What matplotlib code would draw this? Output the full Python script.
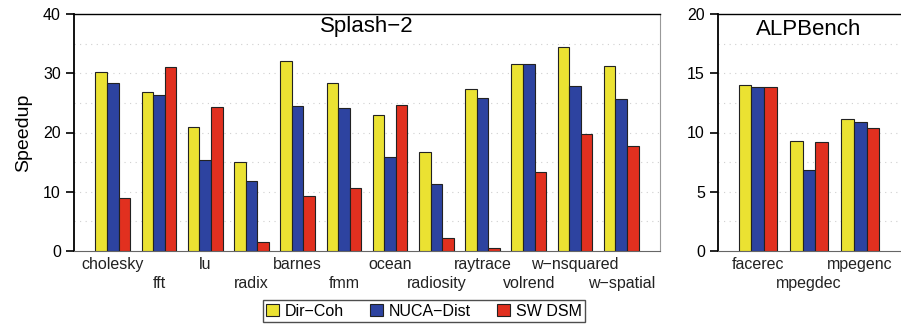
import numpy as np
import matplotlib
matplotlib.use("Agg")
import matplotlib.pyplot as plt

plt.rcParams['font.family'] = ['Liberation Sans', 'DejaVu Sans']

splash_apps = ["cholesky", "fft", "lu", "radix", "barnes", "fmm", "ocean",
               "radiosity", "raytrace", "volrend", "w\u2212nsquared", "w\u2212spatial"]
splash_dir = [30.2, 26.8, 21.0, 15.0, 32.0, 28.3, 22.9, 16.7, 27.3, 31.5, 34.5, 31.3]
splash_nuca = [28.3, 26.3, 15.4, 11.8, 24.5, 24.1, 15.8, 11.3, 25.8, 31.5, 27.8, 25.6]
splash_sw = [8.9, 31.1, 24.3, 1.5, 9.2, 10.6, 24.6, 2.2, 0.5, 13.3, 19.8, 17.7]

alp_apps = ["facerec", "mpegdec", "mpegenc"]
alp_dir = [14.0, 9.3, 11.1]
alp_nuca = [13.8, 6.8, 10.9]
alp_sw = [13.8, 9.2, 10.4]

series = ["Dir\u2212Coh", "NUCA\u2212Dist", "SW DSM"]
colors = ["#ebe232", "#2d43a0", "#e1301f"]

fig = plt.figure(figsize=(9.01, 3.27), dpi=100)
ax1 = fig.add_axes([74/901, 1-251/327, (660-74)/901, (251-14)/327])
ax2 = fig.add_axes([718/901, 1-251/327, (900-718)/901, (251-14)/327])

def draw(ax, apps, vals, ymax, step, xl):
    x = np.arange(len(apps))
    w = 0.25
    for k, v in enumerate(vals):
        ax.bar(x + (k-1)*w, v, w, color=colors[k], edgecolor="#222222",
               linewidth=0.8, label=series[k], zorder=3)
    ax.set_ylim(0, ymax)
    ax.set_xlim(*xl)
    ax.set_yticks(np.arange(0, ymax+1, step))
    for g in np.arange(step/2, ymax, step/2):
        ax.axhline(g, color="#d0d0d0", linestyle=(0, (1, 4)), linewidth=0.8, zorder=1)
    ax.set_xticks(x)
    ax.set_xticklabels(apps, fontsize=11.5, color="#222222")
    ax.tick_params(axis="x", length=0, pad=4)
    # staggered labels: every other one drops to a second row
    for i, t in enumerate(ax.xaxis.get_major_ticks()):
        if i % 2 == 1:
            t.set_pad(18)
    ax.tick_params(axis="y", direction="out", length=6, labelsize=11.5, width=1.2)
    ax.spines["left"].set_linewidth(1.3)
    ax.spines["top"].set_linewidth(1.0)
    ax.spines["right"].set_color("#999999")
    ax.spines["bottom"].set_color("#666666")

draw(ax1, splash_apps, [splash_dir, splash_nuca, splash_sw], 40, 10, (-0.84, 11.84))
draw(ax2, alp_apps, [alp_dir, alp_nuca, alp_sw], 20, 5, (-0.78, 2.78))
ax2.spines["right"].set_visible(False)

ax1.text(0.5, 0.99, "Splash\u22122", transform=ax1.transAxes, ha="center", va="top", fontsize=16)
ax2.text(0.5, 0.98, "ALPBench", transform=ax2.transAxes, ha="center", va="top", fontsize=16)
ax1.set_ylabel("Speedup", fontsize=14, labelpad=8)

h, l = ax1.get_legend_handles_labels()
leg = fig.legend(h, l, loc="center", bbox_to_anchor=(424/901, 1-311/327), ncol=3,
                 fontsize=11.5, frameon=True, fancybox=False, edgecolor="#222222",
                 handlelength=0.8, handleheight=0.8, handletextpad=0.4,
                 columnspacing=1.6, borderpad=0.2, borderaxespad=0)
leg.get_frame().set_linewidth(1.0)

fig.savefig("out.png", dpi=100)
